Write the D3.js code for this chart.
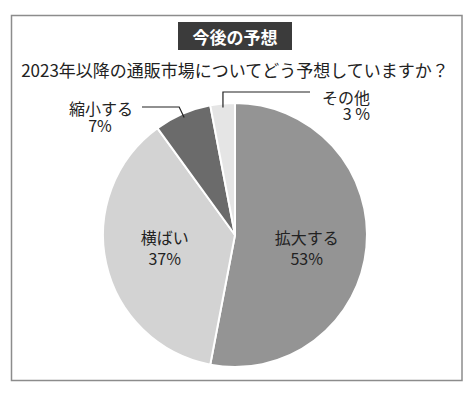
<!DOCTYPE html>
<html>
<head>
<meta charset="utf-8">
<script src="https://cdn.jsdelivr.net/npm/d3@7"></script>
<style>
  body { margin: 0; background: #fff; }
  svg { display: block; font-family: "Noto Sans CJK JP", "Noto Sans", sans-serif; }
</style>
</head>
<body>
<div class="chart"></div>
<script>
const categories = ['拡大する', '横ばい', '縮小する', 'その他'];
const values = [53, 37, 7, 3];
const valueLabels = ['53%', '37%', '7%', '3 %'];
const colors = ['#949494', '#d3d3d3', '#6b6b6b', '#e5e5e5'];

const width = 474;
const height = 394;
const cx = 235, cy = 235, radius = 132;

const svg = d3.select('.chart')
    .append('svg')
    .attr('width', width)
    .attr('height', height);

// frame
svg.append('rect')
    .attr('x', 11.5)
    .attr('y', 15.5)
    .attr('width', 450.5)
    .attr('height', 365)
    .attr('fill', 'none')
    .attr('stroke', '#8c8c8c')
    .attr('stroke-width', 1.5);

// title box
svg.append('rect')
    .attr('x', 178)
    .attr('y', 22)
    .attr('width', 114)
    .attr('height', 28)
    .attr('fill', '#3b3b3b');

svg.append('text')
    .attr('x', 235)
    .attr('y', 36)
    .attr('text-anchor', 'middle')
    .attr('dominant-baseline', 'central')
    .attr('fill', '#fff')
    .attr('font-size', 17)
    .attr('font-weight', 'bold')
    .text('今後の予想');

svg.append('text')
    .attr('x', 235)
    .attr('y', 69)
    .attr('text-anchor', 'middle')
    .attr('dominant-baseline', 'central')
    .attr('fill', '#222')
    .attr('font-size', 17)
    .text('2023年以降の通販市場についてどう予想していますか？');

const data = categories.map((c, i) => ({name: c, value: values[i], label: valueLabels[i], color: colors[i]}));

const pie = d3.pie()
    .sort(null)
    .value(d => d.value);

const arc = d3.arc()
    .innerRadius(0)
    .outerRadius(radius);

const arcs = pie(data);

const group = svg.append('g')
    .attr('transform', `translate(${cx},${cy})`);

group.selectAll('path')
    .data(arcs)
    .enter()
    .append('path')
    .attr('d', arc)
    .attr('fill', d => d.data.color)
    .attr('stroke', '#fff')
    .attr('stroke-width', 2);

// two-line label: name on top, percent below
function label(x1, y1, x2, y2, d, anchor2) {
    const t = group.append('text')
        .attr('font-size', 16)
        .attr('fill', '#222');
    t.append('tspan')
        .attr('x', x1)
        .attr('y', y1)
        .attr('text-anchor', 'middle')
        .attr('dominant-baseline', 'central')
        .text(d.data.name);
    t.append('tspan')
        .attr('x', x2)
        .attr('y', y2)
        .attr('text-anchor', anchor2 || 'middle')
        .attr('dominant-baseline', 'central')
        .text(d.data.label);
}

// inside labels (two big slices)
const inner = d3.arc().innerRadius(72).outerRadius(72);
arcs.slice(0, 2).forEach(d => {
    const [x] = inner.centroid(d);
    label(x, 2, x, 23, d);
});

// leader lines for small slices
const anchor = d3.arc().innerRadius(radius - 4).outerRadius(radius - 4);

const small = arcs[2];
const [sx, sy] = anchor.centroid(small);
group.append('polyline')
    .attr('points', [[sx, sy], [sx - 5, -128], [-93, -128]].map(p => p.join(',')).join(' '))
    .attr('fill', 'none')
    .attr('stroke', '#222')
    .attr('stroke-width', 1.2);
label(-134, -127, -135, -110, small);

const other = arcs[3];
const [ox, oy] = anchor.centroid(other);
group.append('polyline')
    .attr('points', [[ox, oy], [ox, -143], [75, -143]].map(p => p.join(',')).join(' '))
    .attr('fill', 'none')
    .attr('stroke', '#222')
    .attr('stroke-width', 1.2);
label(111, -138, 135, -122, other, 'end');
</script>
</body>
</html>
